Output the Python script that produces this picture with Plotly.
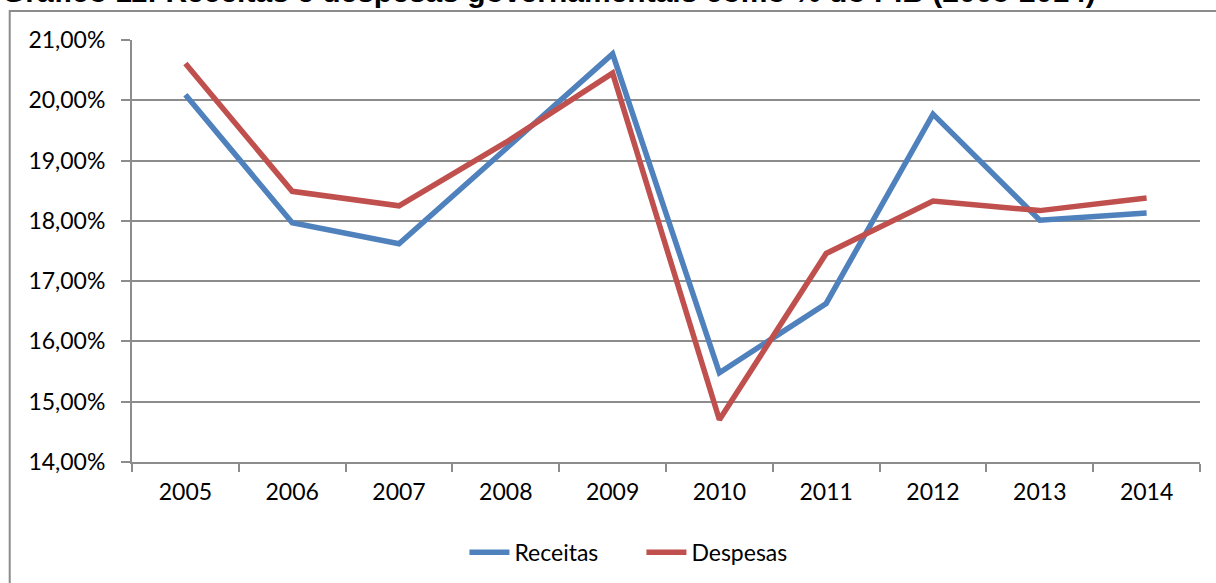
import plotly.graph_objects as go

# Anos e séries (% do PIB)
anos = ["2005", "2006", "2007", "2008", "2009", "2010", "2011", "2012", "2013", "2014"]
receitas = [20.09, 17.97, 17.62, 19.20, 20.77, 15.48, 16.63, 19.77, 18.01, 18.13]
despesas = [20.61, 18.49, 18.25, 19.30, 20.45, 14.70, 17.46, 18.33, 18.17, 18.38]
ticks_y = [14, 15, 16, 17, 18, 19, 20, 21]
rotulos_y = [f"{v:.2f}".replace(".", ",") + "%" for v in ticks_y]

TICK_FONT = dict(family="Lato, 'Open Sans', sans-serif", size=23, color="#000000")
GRID = "#8c8c8c"

fig = go.Figure()
fig.add_trace(go.Scatter(x=anos, y=receitas, name="Receitas", mode="lines",
                         line=dict(color="#4F81BD", width=5.5)))
fig.add_trace(go.Scatter(x=anos, y=despesas, name="Despesas", mode="lines",
                         line=dict(color="#C0504D", width=5.5)))

fig.update_layout(
    width=1216, height=583,
    margin=dict(l=132, r=16, t=40, b=121, autoexpand=False),
    paper_bgcolor="white", plot_bgcolor="white",
    showlegend=True,
    legend=dict(orientation="h", x=0.477, xanchor="center", y=-0.163, yanchor="top",
                font=TICK_FONT, itemwidth=40, entrywidth=122, traceorder="normal"),
    annotations=[dict(
        text="<b>Gráfico 11: Receitas e despesas governamentais como % do PIB (2005-2014)</b>",
        xref="paper", yref="paper", x=-0.1235, y=1.0705, xanchor="left", yanchor="bottom",
        showarrow=False, font=dict(family="Liberation Sans, Arial", size=30, color="#000"))],
    shapes=[dict(type="rect", xref="paper", yref="paper",
                 x0=-0.1145, x1=1.02, y0=-0.35, y1=1.069,
                 line=dict(color="#8c8c8c", width=2), fillcolor="rgba(0,0,0,0)", layer="below")],
)

fig.update_xaxes(
    type="category", range=[-0.5, 9.5],
    showgrid=False, showline=True, linecolor=GRID, linewidth=2,
    ticks="outside", tickson="boundaries", ticklen=8, tickcolor=GRID, tickwidth=2,
    tickfont=TICK_FONT, ticklabelstandoff=8,
)
fig.update_yaxes(
    range=[14, 21], tickvals=ticks_y, ticktext=rotulos_y,
    showgrid=True, gridcolor=GRID, gridwidth=2,
    showline=True, linecolor=GRID, linewidth=2,
    ticks="outside", ticklen=9, tickcolor=GRID, tickwidth=2,
    tickfont=TICK_FONT, ticklabelstandoff=11, zeroline=False,
)

fig.write_html("out.html")
